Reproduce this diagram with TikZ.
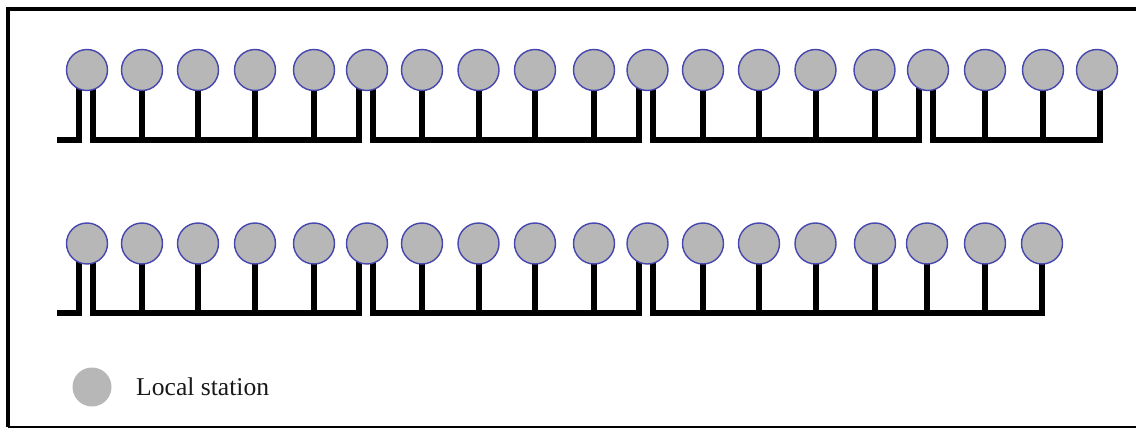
\documentclass[tikz,border=0pt]{standalone}
\usepackage{fontspec}
\setmainfont{Liberation Serif}
\definecolor{stationgray}{RGB}{183,183,183}
\definecolor{stationblue}{RGB}{70,70,175}
\tikzset{
  x=1pt,y=-1pt,
  station/.style={circle,draw=stationblue,line width=1.4pt,fill=stationgray,minimum size=41pt,inner sep=0pt},
  legendstation/.style={circle,fill=stationgray,minimum size=39pt,inner sep=0pt},
  wire/.style={line width=6pt,black,line cap=butt,line join=miter},
  frameline/.style={line width=4pt,black},
}
\begin{document}
\begin{tikzpicture}
\useasboundingbox (0,0) rectangle (1136,428);
\draw[frameline] (8,427) -- (8,8.7) -- (1136,8.7);
\draw[line width=1.5pt,black] (8,427) -- (1136,427);
% wires first, stations on top
\foreach \row/\cy/\by/\xs/\ends in {
  a/70/140/{87,142,198,255,314,367,422,478.5,535,594,647.5,703,759,815.5,874.5,928,985,1043,1097}/{},
  b/243.5/313/{87,142,198,255,314,367,422,478.5,535,594,647.5,703,759,815.5,875,927,985,1042}/{}}{
  \foreach \x [count=\i] in \xs {
    \coordinate (\row c\i) at (\x,\cy);
    \coordinate (\row b\i) at (\x,\by);
  }
}
% row A wires
\coordinate (as0) at (57,140);
\coordinate (at1) at (79,80);  \coordinate (at1b) at (79,140);
\coordinate (au1) at (93,80);  \coordinate (au1b) at (93,140);
\coordinate (at2) at (359,80); \coordinate (at2b) at (359,140);
\coordinate (au2) at (373,80); \coordinate (au2b) at (373,140);
\coordinate (at3) at (639,80); \coordinate (at3b) at (639,140);
\coordinate (au3) at (653,80); \coordinate (au3b) at (653,140);
\coordinate (at4) at (919,80); \coordinate (at4b) at (919,140);
\coordinate (au4) at (933,80); \coordinate (au4b) at (933,140);
\coordinate (aend) at (1100,80); \coordinate (aendb) at (1100,140);
\draw[wire] (as0) -- (at1b) -- (at1);
\draw[wire] (au1) -- (au1b) -- (at2b) -- (at2);
\draw[wire] (au2) -- (au2b) -- (at3b) -- (at3);
\draw[wire] (au3) -- (au3b) -- (at4b) -- (at4);
\draw[wire] (au4) -- (au4b) -- (aendb) -- (aend);
\foreach \i in {2,3,4,5,7,8,9,10,12,13,14,15,17,18}{\draw[wire] (ac\i) -- (ab\i);}
% row B wires
\coordinate (bs0) at (57,313);
\coordinate (bt1) at (79,253);  \coordinate (bt1b) at (79,313);
\coordinate (bu1) at (93,253);  \coordinate (bu1b) at (93,313);
\coordinate (bt2) at (359,253); \coordinate (bt2b) at (359,313);
\coordinate (bu2) at (373,253); \coordinate (bu2b) at (373,313);
\coordinate (bt3) at (639,253); \coordinate (bt3b) at (639,313);
\coordinate (bu3) at (653,253); \coordinate (bu3b) at (653,313);
\coordinate (bend) at (1042,253); \coordinate (bendb) at (1042,313);
\draw[wire] (bs0) -- (bt1b) -- (bt1);
\draw[wire] (bu1) -- (bu1b) -- (bt2b) -- (bt2);
\draw[wire] (bu2) -- (bu2b) -- (bt3b) -- (bt3);
\draw[wire] (bu3) -- (bu3b) -- (bendb) -- (bend);
\foreach \i in {2,3,4,5,7,8,9,10,12,13,14,15,16,17}{\draw[wire] (bc\i) -- (bb\i);}
% stations
\foreach \i in {1,...,19}{\node[station] (sa\i) at (ac\i) {};}
\foreach \i in {1,...,18}{\node[station] (sb\i) at (bc\i) {};}
% legend
\node[legendstation] (legend) at (92,387) {};
\node[anchor=base west,inner sep=0pt,font=\fontsize{25.6}{30}\selectfont,text=black!90] (legendtext) at (136,395) {Local station};
\end{tikzpicture}
\end{document}
